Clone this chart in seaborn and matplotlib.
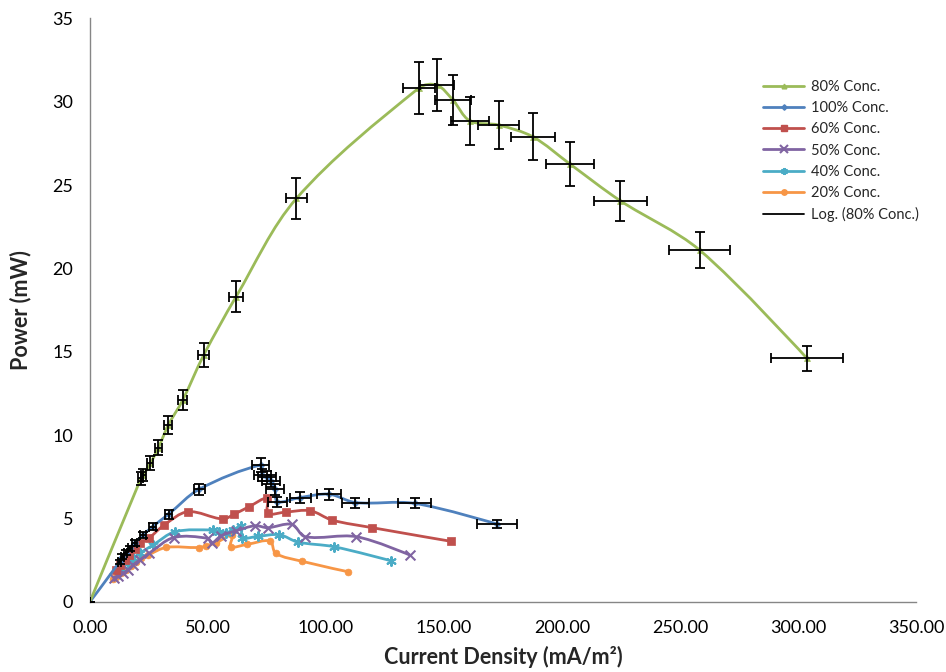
import numpy as np
import pandas as pd
import matplotlib
matplotlib.use("Agg")
import matplotlib.pyplot as plt
import seaborn as sns
from matplotlib.path import Path
from matplotlib.patches import PathPatch
from matplotlib.lines import Line2D
from matplotlib.ticker import FormatStrFormatter, MultipleLocator

# =============================================================================
# Data
# =============================================================================
conc80_x = [0, 21.6, 22.6, 25.6, 29.0, 33.2, 39.3, 48.2, 61.9, 87.5,
            139.4, 147.0, 153.8, 160.9, 173.2, 187.6, 203.4, 224.7, 258.3, 303.8]
conc80_y = [0, 7.4, 7.6, 8.3, 9.24, 10.6, 12.1, 14.8, 18.3, 24.2,
            30.83, 31.0, 30.1, 28.86, 28.6, 27.9, 26.26, 24.06, 21.1, 14.6]

conc100_x = [0, 12.6, 13.7, 15.1, 16.8, 18.9, 22.5, 26.5, 33.3, 46.3,
             72.3, 73.0, 75.0, 76.6, 78.4, 79.4, 89.0, 101.3, 112.5, 137.6, 172.4]
conc100_y = [0, 2.4, 2.7, 2.94, 3.2, 3.5, 4.0, 4.5, 5.25, 6.75,
             8.2, 7.6, 7.46, 7.26, 6.74, 6.0, 6.25, 6.45, 5.95, 5.9, 4.66]

conc60_x = [11.2, 12.9, 14.7, 16.5, 19.0, 21.4, 24.9, 31.4, 41.5, 56.3,
            61.0, 67.4, 75.0, 75.4, 83.0, 93.4, 102.5, 119.7, 153.1]
conc60_y = [1.9, 2.2, 2.5, 2.8, 3.14, 3.5, 3.8, 4.6, 5.4, 4.96,
            5.24, 5.7, 6.2, 5.3, 5.38, 5.46, 4.9, 4.44, 3.62]

conc50_x = [10.0, 11.9, 14.0, 16.1, 18.2, 21.1, 25.0, 35.5, 50.0, 51.6,
            55.5, 62.0, 70.0, 75.3, 85.5, 91.2, 112.9, 135.5]
conc50_y = [1.45, 1.55, 1.7, 1.9, 2.2, 2.5, 2.9, 3.85, 3.8, 3.5,
            3.95, 4.26, 4.56, 4.44, 4.64, 3.9, 3.9, 2.8]

conc40_x = [11.9, 14.0, 16.1, 18.2, 21.0, 26.7, 36.1, 52.3, 54.8, 57.8,
            60.6, 64.2, 64.5, 71.1, 80.3, 88.0, 103.4, 127.4]
conc40_y = [1.9, 2.14, 2.4, 2.6, 2.9, 3.4, 4.2, 4.3, 4.18, 4.14,
            4.3, 4.55, 3.84, 3.92, 4.02, 3.58, 3.3, 2.46]

conc20_x = [9.7, 11.2, 13.3, 15.4, 17.5, 19.7, 21.8, 24.6, 32.4, 46.0,
            49.0, 53.4, 60.3, 59.6, 66.6, 76.3, 78.7, 90.0, 109.3]
conc20_y = [1.34, 1.46, 1.7, 1.9, 2.14, 2.4, 2.6, 2.8, 3.26, 3.25,
            3.34, 3.54, 4.0, 3.3, 3.44, 3.64, 2.9, 2.42, 1.8]

# percentage error bars (both directions) on the 80% and 100% series
ERR_PCT = 0.05

series_labels = ["80% Conc.", "100% Conc.", "60% Conc.", "50% Conc.", "40% Conc.", "20% Conc."]
trend_label = "Log. (80% Conc.)"

X_MAX, Y_MAX = 350, 35

# =============================================================================
# Styling
# =============================================================================
COLORS = {
    "80% Conc.": "#9BBB59",
    "100% Conc.": "#4F81BD",
    "60% Conc.": "#C0504D",
    "50% Conc.": "#8064A2",
    "40% Conc.": "#4BACC6",
    "20% Conc.": "#F79646",
}
MARKERS = {
    "80% Conc.": ("^", 18),
    "100% Conc.": ("D", 12),
    "60% Conc.": ("s", 26),
    "50% Conc.": ("x", 50),
    "40% Conc.": ((6, 2, 0), 40),
    "20% Conc.": ("o", 24),
}
FILLED = {"^", "D", "s", "o"}

AX_RECT = [0.0951, 0.1046, 0.8732, 0.868]
FIG_W, FIG_H = 946, 672


def smooth_path(xs, ys):
    """Excel-like smoothed line: cubic Bezier through every point,
    tangents weighted by chord length (measured in screen units)."""
    sx = AX_RECT[2] * FIG_W / X_MAX
    sy = AX_RECT[3] * FIG_H / Y_MAX
    pts = np.column_stack([xs, ys]).astype(float)
    scr = pts * [sx, sy]
    n = len(pts)
    seg = np.linalg.norm(np.diff(scr, axis=0), axis=1)

    def tangent(i):
        if i == 0 or i == n - 1:
            return np.zeros(2), 0.0, 0.0
        return pts[i + 1] - pts[i - 1], seg[i - 1], seg[i]

    verts = [pts[0]]
    codes = [Path.MOVETO]
    for i in range(n - 1):
        t1, dp1, dn1 = tangent(i)
        t2, dp2, dn2 = tangent(i + 1)
        w1 = dn1 / (dp1 + dn1) if dp1 + dn1 > 0 else 0
        w2 = dp2 / (dp2 + dn2) if dp2 + dn2 > 0 else 0
        c1 = pts[i] + t1 * w1 / 3.0
        c2 = pts[i + 1] - t2 * w2 / 3.0
        verts += [c1, c2, pts[i + 1]]
        codes += [Path.CURVE4] * 3
    return Path(verts, codes)


sns.set_theme(style="white")
plt.rcParams["font.family"] = ["Lato", "DejaVu Sans"]

fig = plt.figure(figsize=(FIG_W / 100, FIG_H / 100), dpi=100)
ax = fig.add_axes(AX_RECT)

data = {
    "80% Conc.": (conc80_x, conc80_y),
    "100% Conc.": (conc100_x, conc100_y),
    "60% Conc.": (conc60_x, conc60_y),
    "50% Conc.": (conc50_x, conc50_y),
    "40% Conc.": (conc40_x, conc40_y),
    "20% Conc.": (conc20_x, conc20_y),
}

# draw back-to-front so the 80% curve sits on top like the original
draw_order = ["20% Conc.", "40% Conc.", "50% Conc.", "60% Conc.", "100% Conc.", "80% Conc."]
for z, name in enumerate(draw_order):
    xs, ys = data[name]
    color = COLORS[name]
    ax.add_patch(PathPatch(smooth_path(xs, ys), facecolor="none", edgecolor=color,
                           lw=2.0, zorder=2 + z * 0.1, capstyle="round", joinstyle="round"))
    marker, size = MARKERS[name]
    df = pd.DataFrame({"x": xs, "y": ys})
    if marker in FILLED:
        sns.scatterplot(data=df, x="x", y="y", marker=marker, s=size, color=color,
                        edgecolor=color, linewidth=0.5, ax=ax, legend=False,
                        zorder=2.05 + z * 0.1)
    else:
        sns.scatterplot(data=df, x="x", y="y", marker=marker, s=size, color=color,
                        linewidth=1.5, ax=ax, legend=False, zorder=2.05 + z * 0.1)

# error bars
for name in ["100% Conc.", "80% Conc."]:
    xs, ys = np.array(data[name][0]), np.array(data[name][1])
    ax.errorbar(xs, ys, xerr=xs * ERR_PCT, yerr=ys * ERR_PCT, fmt="none",
                ecolor="black", elinewidth=1.3, capsize=3.5, capthick=1.3, zorder=4)

ax.set_xlim(0, X_MAX)
ax.set_ylim(0, Y_MAX)
ax.xaxis.set_major_locator(MultipleLocator(50))
ax.yaxis.set_major_locator(MultipleLocator(5))
ax.xaxis.set_major_formatter(FormatStrFormatter("%.2f"))

for side in ["top", "right"]:
    ax.spines[side].set_visible(False)
for side in ["left", "bottom"]:
    ax.spines[side].set_color("#868686")
    ax.spines[side].set_linewidth(1.0)
ax.tick_params(axis="both", direction="out", length=5, width=1, color="#868686",
               labelsize=13, labelcolor="black")
ax.tick_params(axis="x", pad=8)
ax.tick_params(axis="y", pad=7)
ax.grid(False)

ax.set_xlabel("Current Density (mA/m²)", fontsize=15.5, fontweight="bold")
ax.set_ylabel("Power (mW)", fontsize=15.5, fontweight="bold")
ax.xaxis.set_label_coords(0.5, -0.075)
ax.yaxis.set_label_coords(-0.071, 0.5)

# legend
handles = []
for name in series_labels:
    marker, size = MARKERS[name]
    ms = np.sqrt(size) * 0.8
    if marker in FILLED:
        h = Line2D([], [], color=COLORS[name], lw=2, marker=marker, markersize=ms,
                   markeredgecolor=COLORS[name])
    else:
        h = Line2D([], [], color=COLORS[name], lw=2, marker=marker, markersize=ms,
                   markeredgewidth=1.5)
    handles.append(h)
trend_line, = ax.plot([], [], color="black", lw=1.3)
handles.append(trend_line)
ax.legend(handles, series_labels + [trend_label], loc="upper left",
          bbox_to_anchor=(0.808, 0.905), frameon=False, fontsize=10.5,
          handlelength=2.8, handletextpad=0.5, labelspacing=0.5, borderaxespad=0)

fig.savefig("out.png", dpi=100)
